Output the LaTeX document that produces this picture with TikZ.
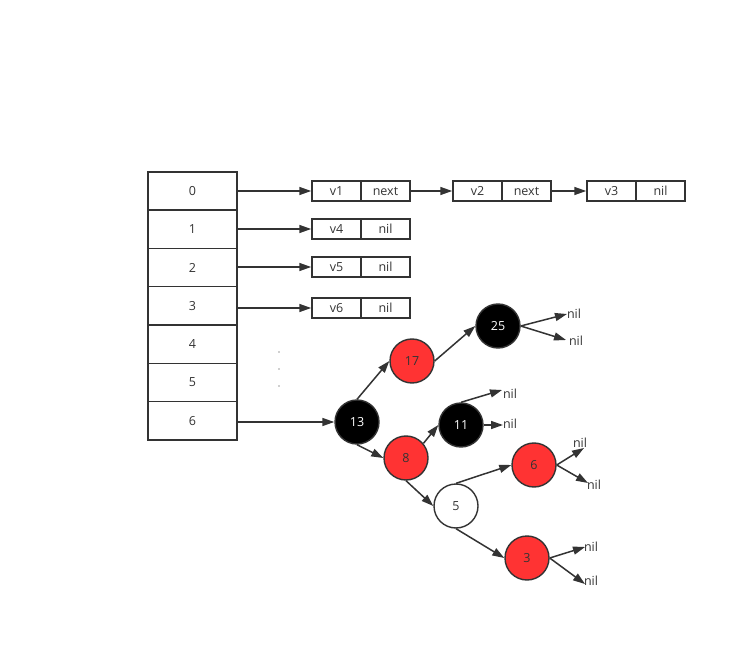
\documentclass[tikz,border=0pt]{standalone}
\usepackage{fontspec}
\setmainfont{Open Sans}
\usetikzlibrary{arrows.meta}
\definecolor{rbred}{HTML}{FF3333}
\definecolor{edgegray}{HTML}{333333}

\begin{document}
\begin{tikzpicture}[x = 1pt, y = -1pt,
		every node/.style = {font = \fontsize{12.5}{14}\selectfont, text = edgegray},
		cell/.style = {draw = edgegray, line width = 1.5pt, minimum width = 89pt, minimum height = 38.3pt, inner sep = 0pt},
		item/.style = {draw = edgegray, line width = 1.5pt, minimum width = 49pt, minimum height = 20pt, inner sep = 0pt},
		rednode/.style = {circle, draw = edgegray, line width = 1.4pt, fill = rbred, minimum size = 44pt, inner sep = 0pt},
		blacknode/.style = {rednode, fill = black, text = white},
		whitenode/.style = {rednode, fill = white},
		nillabel/.style = {inner sep = 0.5pt},
		link/.style = {-{Triangle[length = 12pt, width = 8pt]}, draw = edgegray, line width = 1.5pt}]
			\useasboundingbox (0, 0) rectangle (747, 652);
			% table
			\foreach \i in {0, ..., 6}
				\node[cell] (r\i) at (192.5, 191 + 38.3 * \i) {\i};
			% lists
			\node[item] (v1) at (336.5, 191) {v1};
			\node[item] (p1) at (385.5, 191) {next};
			\node[item] (v2) at (477.5, 191) {v2};
			\node[item] (p2) at (526.5, 191) {next};
			\node[item] (v3) at (611.5, 191) {v3};
			\node[item] (p3) at (660.5, 191) {nil};
			\node[item] (v4) at (336.5, 229) {v4};
			\node[item] (p4) at (385.5, 229) {nil};
			\node[item] (v5) at (336.5, 267) {v5};
			\node[item] (p5) at (385.5, 267) {nil};
			\node[item] (v6) at (336.5, 308) {v6};
			\node[item] (p6) at (385.5, 308) {nil};
			\draw[link] (r0.east |- v1.west) -- (v1.west);
			\draw[link] (p1.east) -- (v2.west);
			\draw[link] (p2.east) -- (v3.west);
			\draw[link] (r1.east |- v4.west) -- (v4.west);
			\draw[link] (r2.east |- v5.west) -- (v5.west);
			\draw[link] (r3.east |- v6.west) -- (v6.west);
			\foreach \y in {352, 369, 386}
				\fill[edgegray] (279, \y) circle (0.7pt);
			% tree
			\node[blacknode] (t13) at (357, 422) {13};
			\node[rednode] (t17) at (412, 361) {17};
			\node[blacknode] (t25) at (498, 326) {25};
			\node[rednode] (t8) at (406, 458) {8};
			\node[blacknode] (t11) at (461, 425) {11};
			\node[whitenode] (t5) at (456, 506) {5};
			\node[rednode] (t6) at (534, 465) {6};
			\node[rednode] (t3) at (527, 558) {3};
			\draw[link] (r6.east |- t13.west) -- (t13.west);
			\draw[link] (t13.north) -- (t17.west);
			\draw[link] (t13.south) -- (t8.west);
			\draw[link] (t17.east) -- (t25.west);
			\draw[link] (t8.40) -- (t11.west);
			\draw[link] (t8.south) -- (t5.west);
			\draw[link] (t5.north) -- (t6.west);
			\draw[link] (t5.south) -- (t3.west);
			% nil leaves
			\node[nillabel] (l25a) at (574, 314) {nil};
			\node[nillabel] (l25b) at (576, 341) {nil};
			\node[nillabel] (l11a) at (510, 394) {nil};
			\node[nillabel] (l11b) at (510, 424) {nil};
			\node[nillabel] (l6a) at (580, 443) {nil};
			\node[nillabel] (l6b) at (594, 485) {nil};
			\node[nillabel] (l3a) at (591, 547) {nil};
			\node[nillabel] (l3b) at (591, 581) {nil};
			\coordinate (e25a) at (567, 314);
			\coordinate (e25b) at (566, 340);
			\coordinate (e11a) at (502, 390);
			\coordinate (e11b) at (503, 425);
			\coordinate (e6a) at (584, 448);
			\coordinate (e6b) at (588, 483);
			\coordinate (e3a) at (585, 547);
			\coordinate (e3b) at (585, 584);
			\draw[link] (t25.east) -- (e25a);
			\draw[link] (t25.east) -- (e25b);
			\draw[link] (t11.north) -- (e11a);
			\draw[link] (t11.east) -- (e11b);
			\draw[link] (t6.east) -- (e6a);
			\draw[link] (t6.east) -- (e6b);
			\draw[link] (t3.east) -- (e3a);
			\draw[link] (t3.east) -- (e3b);
		\end{tikzpicture}
\end{document}
